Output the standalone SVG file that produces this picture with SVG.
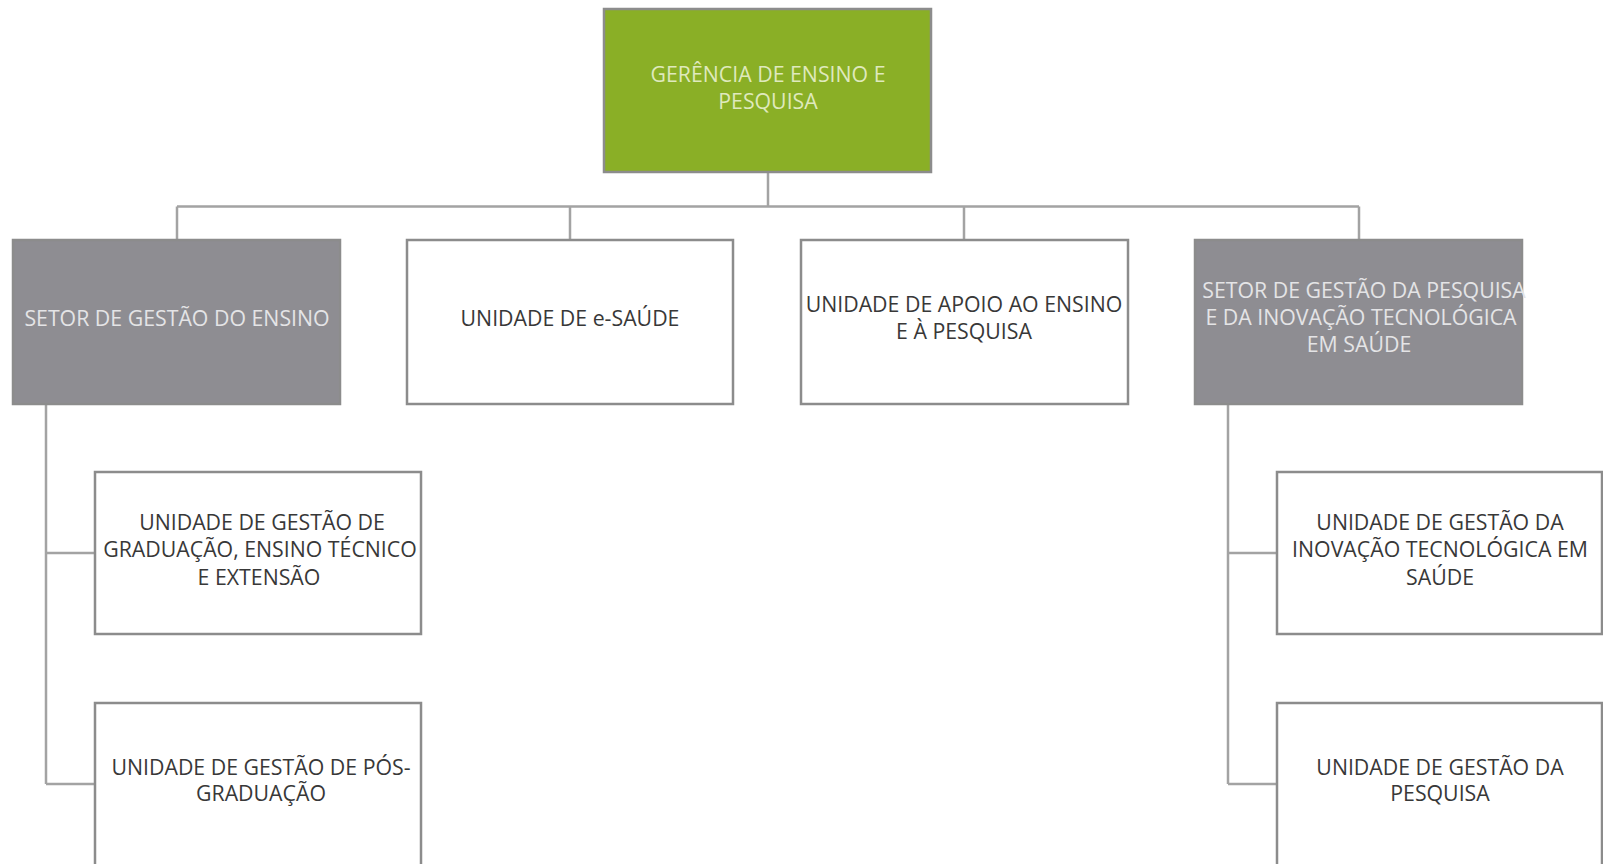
<svg xmlns="http://www.w3.org/2000/svg" width="1603" height="864" viewBox="0 0 1603 864">
<style>
.box{stroke:#8c8c8c;stroke-width:2.5}
.white{fill:#ffffff}
.gray{fill:#8e8d92}
.green{fill:#8aaf26}
.conn{fill:none;stroke:#a3a3a3;stroke-width:2.5}
text{font-family:"Open Sans","Noto Sans","Liberation Sans",sans-serif;font-size:21.3px;text-anchor:middle}
.dk{fill:#383838}
.lt{fill:#e4e4e6}
.lg{fill:#dfe9bd}
</style>
<rect width="1603" height="864" fill="#ffffff"/>
<g id="connectors">
<path class="conn" d="M768 172V206.5M177 206.5H1359M177 206.5V240M570 206.5V240M964 206.5V240M1359 206.5V240"/>
<path class="conn" d="M46 404V784M46 553H95M46 784H95"/>
<path class="conn" d="M1228 404V784M1228 553H1277M1228 784H1277"/>
</g>
<g id="gerencia">
<rect class="box green" x="604" y="9" width="327" height="163"/>
<text class="lg" x="768" y="82">GERÊNCIA DE ENSINO E</text>
<text class="lg" x="768" y="109">PESQUISA</text>
</g>
<g id="setor-ensino">
<rect class="box gray" x="13" y="240" width="327" height="164"/>
<text class="lt" x="177" y="326">SETOR DE GESTÃO DO ENSINO</text>
</g>
<g id="esaude">
<rect class="box white" x="407" y="240" width="326" height="164"/>
<text class="dk" x="570" y="326">UNIDADE DE e-SAÚDE</text>
</g>
<g id="apoio">
<rect class="box white" x="801" y="240" width="327" height="164"/>
<text class="dk" x="964" y="312">UNIDADE DE APOIO AO ENSINO</text>
<text class="dk" x="964" y="339">E À PESQUISA</text>
</g>
<g id="setor-pesquisa">
<rect class="box gray" x="1195" y="240" width="327" height="164"/>
<text class="lt" x="1364" y="298">SETOR DE GESTÃO DA PESQUISA</text>
<text class="lt" x="1361" y="325">E DA INOVAÇÃO TECNOLÓGICA</text>
<text class="lt" x="1359" y="352">EM SAÚDE</text>
</g>
<g id="graduacao">
<rect class="box white" x="95" y="472" width="326" height="162"/>
<text class="dk" x="262" y="530">UNIDADE DE GESTÃO DE</text>
<text class="dk" x="260" y="557">GRADUAÇÃO, ENSINO TÉCNICO</text>
<text class="dk" x="259" y="585">E EXTENSÃO</text>
</g>
<g id="pos-graduacao">
<rect class="box white" x="95" y="703" width="326" height="175"/>
<text class="dk" x="261" y="775">UNIDADE DE GESTÃO DE PÓS-</text>
<text class="dk" x="261" y="801">GRADUAÇÃO</text>
</g>
<g id="inovacao">
<rect class="box white" x="1277" y="472" width="325" height="162"/>
<text class="dk" x="1440" y="530">UNIDADE DE GESTÃO DA</text>
<text class="dk" x="1440" y="557">INOVAÇÃO TECNOLÓGICA EM</text>
<text class="dk" x="1440" y="585">SAÚDE</text>
</g>
<g id="gestao-pesquisa">
<rect class="box white" x="1277" y="703" width="325" height="175"/>
<text class="dk" x="1440" y="775">UNIDADE DE GESTÃO DA</text>
<text class="dk" x="1440" y="801">PESQUISA</text>
</g>
</svg>
